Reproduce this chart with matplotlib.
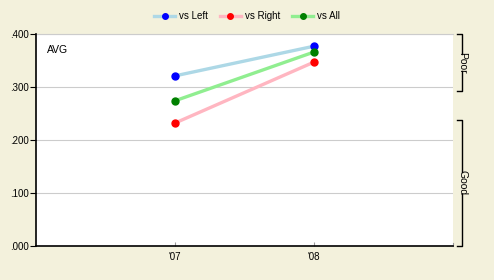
import matplotlib.pyplot as plt
from matplotlib.lines import Line2D
from matplotlib.transforms import blended_transform_factory

plt.rcParams['font.family'] = ['Liberation Sans', 'DejaVu Sans']

seasons = ["'07", "'08"]
avg_left = [0.321, 0.377]
avg_right = [0.232, 0.347]
avg_all = [0.274, 0.366]
yticks = [0.0, 0.1, 0.2, 0.3, 0.4]
ytick_labels = ['.000', '.100', '.200', '.300', '.400']
# rating bands on the right side (low, high)
band_names = ['Poor', 'Good']
band_low = [0.292, 0.000]
band_high = [0.400, 0.238]

bg = '#f3f1dc'
fig = plt.figure(figsize=(4.94, 2.80), dpi=100, facecolor=bg)
ax = fig.add_axes([36 / 494, 34 / 280, 417 / 494, 212 / 280])
ax.set_facecolor('white')

xpos = [1, 2]
series = [
    ('vs Left', avg_left, '#add8e6', '#0000ff'),
    ('vs Right', avg_right, '#ffb6c1', '#ff0000'),
    ('vs All', avg_all, '#90ee90', '#008000'),
]
handles = []
for label, vals, lc, mc in series:
    ax.plot(xpos, vals, color=lc, lw=2.4, solid_capstyle='butt', zorder=3)
    ax.plot(xpos, vals, 'o', color=mc, ms=5, zorder=4)
    handles.append(Line2D([], [], color=lc, lw=2.4, marker='o', ms=4,
                          markerfacecolor=mc, markeredgecolor=mc, label=label))

ax.set_xlim(0, 3)
ax.set_ylim(0, 0.4)
ax.set_xticks(xpos)
ax.set_xticklabels(seasons, fontsize=7)
ax.set_yticks(yticks)
ax.set_yticklabels(ytick_labels, fontsize=7)
ax.tick_params(axis='y', direction='out', length=4, width=0.8, pad=1)
ax.tick_params(axis='x', direction='in', length=3, width=0.8, color='#999999', pad=4)
ax.yaxis.grid(True, color='#cccccc', lw=0.8)
ax.set_axisbelow(True)
for s in ['top', 'right']:
    ax.spines[s].set_visible(False)
ax.spines['left'].set_linewidth(1.2)
ax.spines['bottom'].set_linewidth(1.2)
ax.axhline(0.4, color='#cccccc', lw=0.8, clip_on=False)
# small end tick at the right end of the x axis
ax.plot([1, 1], [0, 0.006], color='#999999', lw=0.8,
        transform=blended_transform_factory(ax.transAxes, ax.transData), clip_on=False)

ax.text(0.026, 0.95, 'AVG', transform=ax.transAxes, fontsize=7.5, va='top')

# right side brackets
bt = blended_transform_factory(ax.transAxes, ax.transData)
bx = 1.0216
tick = 0.012
gaps = [0.016, 0.021]
for name, lo, hi, half in zip(band_names, band_low, band_high, gaps):
    mid = (lo + hi) / 2
    ax.plot([bx - tick, bx, bx], [hi, hi, mid + half],
            color='black', lw=1, transform=bt, clip_on=False)
    ax.plot([bx, bx, bx - tick], [mid - half, lo, lo],
            color='black', lw=1, transform=bt, clip_on=False)
    ax.text(bx, mid, name, transform=bt, rotation=270, fontsize=7.5,
            ha='center', va='center', clip_on=False)

fig.legend(handles=handles, loc='center', bbox_to_anchor=(0.5, 1 - 16 / 280),
           ncol=3, frameon=False, fontsize=7, handlelength=2.2,
           columnspacing=1.2, handletextpad=0.4)

fig.savefig('out.png', dpi=100, facecolor=bg)
